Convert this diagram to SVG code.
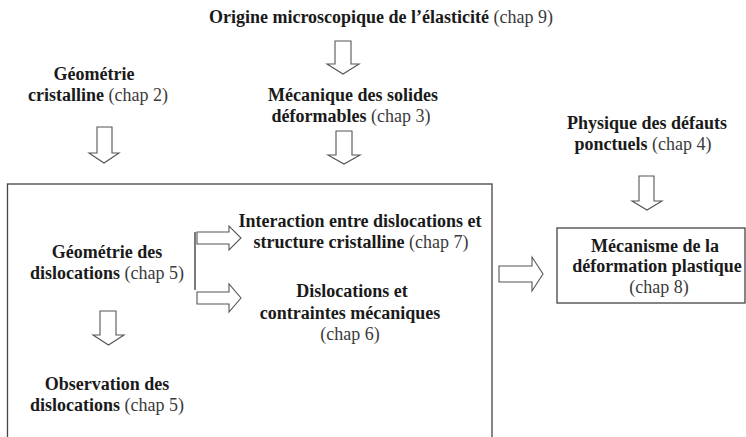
<svg xmlns="http://www.w3.org/2000/svg" width="746" height="437" viewBox="0 0 746 437">
<style>
  text { font-family: "Liberation Serif", "Times New Roman", serif; font-size: 18px; text-anchor: middle; }
  .b { font-weight: bold; fill: #1a1a1a; }
  .r { font-weight: normal; fill: #3a3a3a; }
  .box { fill: none; stroke: #444; stroke-width: 1.3; }
  .arrow { fill: #fff; stroke: #555; stroke-width: 1.1; stroke-linejoin: miter; }
  .line { stroke: #222; stroke-width: 1.2; fill: none; }
</style>
<rect width="746" height="437" fill="#fff"/>

<g id="cluster">
  <rect class="box" x="7.5" y="184" width="484.5" height="260"/>
</g>

<g id="n_origine">
  <text x="381" y="23"><tspan class="b">Origine microscopique de l’élasticité</tspan><tspan class="r"> (chap 9)</tspan></text>
</g>

<g id="n_geom_crist">
  <text x="94" y="80" class="b">Géométrie</text>
  <text x="98" y="101"><tspan class="b">cristalline</tspan><tspan class="r"> (chap 2)</tspan></text>
</g>

<g id="n_mecanique">
  <text x="353" y="101" class="b">Mécanique des solides</text>
  <text x="351" y="122"><tspan class="b">déformables</tspan><tspan class="r"> (chap 3)</tspan></text>
</g>

<g id="n_physique">
  <text x="647" y="129" class="b">Physique des défauts</text>
  <text x="643" y="150"><tspan class="b">ponctuels</tspan><tspan class="r"> (chap 4)</tspan></text>
</g>

<g id="n_mecanisme">
  <rect class="box" x="557" y="228" width="188" height="75"/>
  <text x="655" y="252" class="b">Mécanisme de la</text>
  <text x="657" y="272" class="b">déformation plastique</text>
  <text x="659" y="293" class="r">(chap 8)</text>
</g>

<g id="n_geom_disloc">
  <text x="107" y="258" class="b">Géométrie des</text>
  <text x="107" y="279"><tspan class="b">dislocations</tspan><tspan class="r"> (chap 5)</tspan></text>
</g>

<g id="n_interaction">
  <text x="360" y="227" class="b">Interaction entre dislocations et</text>
  <text x="361" y="248"><tspan class="b">structure cristalline</tspan><tspan class="r"> (chap 7)</tspan></text>
</g>

<g id="n_contraintes">
  <text x="352" y="297" class="b">Dislocations et</text>
  <text x="350" y="319" class="b">contraintes mécaniques</text>
  <text x="350" y="340" class="r">(chap 6)</text>
</g>

<g id="n_observation">
  <text x="107" y="390" class="b">Observation des</text>
  <text x="107" y="411"><tspan class="b">dislocations</tspan><tspan class="r"> (chap 5)</tspan></text>
</g>

<g id="connectors">
  <path class="arrow" d="M335 41 L351 41 L351 64 L359 64 L343 74 L327 64 L335 64 Z"/>
  <path class="arrow" d="M97 127 L112 127 L112 153 L119 153 L104 163 L89 153 L97 153 Z"/>
  <path class="arrow" d="M336 131 L352 131 L352 155 L360 155 L344 164 L328 155 L336 155 Z"/>
  <path class="arrow" d="M639 176 L654 176 L654 201 L662 201 L647 210 L632 201 L639 201 Z"/>
  <path class="arrow" d="M100 311 L116 311 L116 335 L124 335 L108.5 345 L93 335 L100 335 Z"/>
  <line class="line" x1="195" y1="232" x2="195" y2="290"/>
  <path class="arrow" d="M197 232 L229 232 L229 226 L241 238 L229 250 L229 244 L197 244 Z"/>
  <path class="arrow" d="M197 292 L229 292 L229 284 L241 298 L229 312 L229 304 L197 304 Z"/>
  <path class="arrow" d="M499 266 L532 266 L532 257 L543 274 L532 291 L532 282 L499 282 Z"/>
</g>
</svg>
